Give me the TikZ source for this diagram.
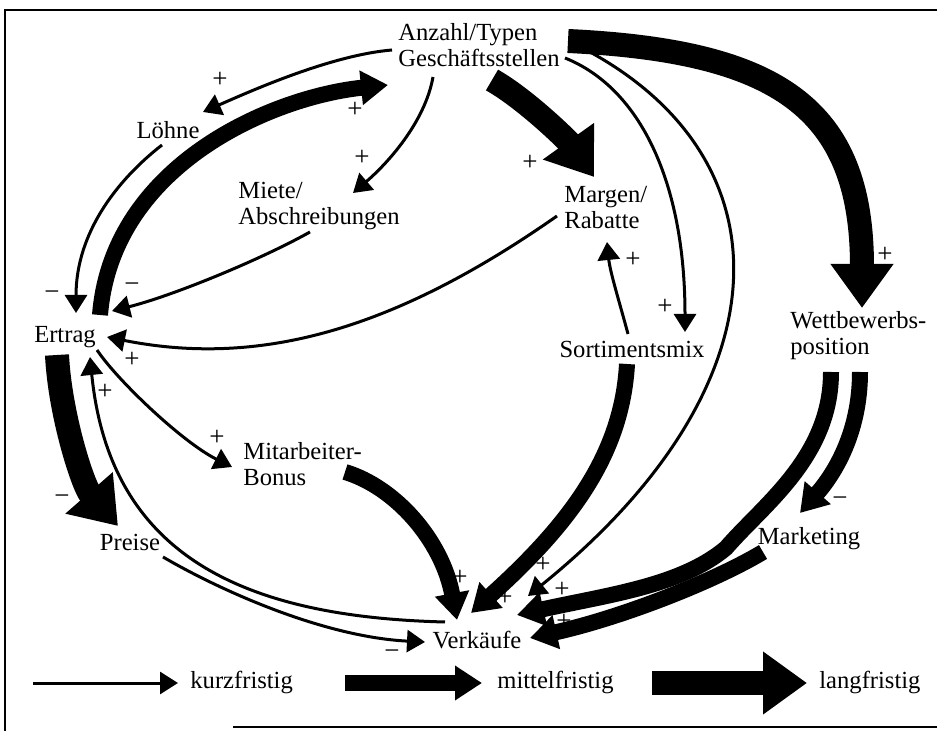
\documentclass[tikz,border=0pt]{standalone}
\usepackage{fontspec}
\setmainfont{Liberation Serif}
\usetikzlibrary{arrows.meta}
\begin{document}
\begin{tikzpicture}[x=0.5pt,y=-0.5pt,
  lbl/.style={font=\fontsize{12.3}{13}\selectfont, inner sep=0pt, align=left},
  sgn/.style={font=\fontsize{13.5}{13.5}\selectfont, inner sep=0pt},
  kurzpfeil/.style={line width=1.5pt, -{Triangle[length=9pt,width=11pt]}},
  mittelpfeil/.style={line width=8pt, -{Triangle[length=13.5pt,width=16.5pt]}},
  langpfeil/.style={line width=12pt, -{Triangle[length=22pt,width=30pt]}},
  rahmen/.style={line width=0.8pt}]
\useasboundingbox (0,0) rectangle (937,731);

% frame
\draw[rahmen] (5,731) -- (5,10) -- (937,10);
\draw[rahmen] (233,727) -- (937,727);

% variables
\node[lbl, anchor=west] (anz) at (398,45) {Anzahl/Typen\\Geschäftsstellen};
\node[lbl] (loehne) at (168,130) {Löhne};
\node[lbl, anchor=west] (miete) at (238,206) {Miete/\\Abschreibungen};
\node[lbl, anchor=west] (margen) at (564,208) {Margen/\\Rabatte};
\node[lbl] (ertrag) at (65,337) {Ertrag};
\node[lbl] (sort) at (632,349) {Sortimentsmix};
\node[lbl, anchor=west] (wett) at (790,336) {Wettbewerbs-\\position};
\node[lbl, anchor=west] (mitarb) at (243,464) {Mitarbeiter-\\Bonus};
\node[lbl] (preise) at (130,542) {Preise};
\node[lbl] (mark) at (809,539) {Marketing};
\node[lbl] (verk) at (477,640) {Verkäufe};

% long-term effects
\draw[langpfeil] ([shift={(94,35)}]anz.west) .. controls +(35,20) and +(-25,-35) .. ([shift={(30,-31)}]margen.west);
\draw[langpfeil] ([shift={(170,-4)}]anz.west) .. controls +(210,10) and +(0,-200) .. ([shift={(72,-28)}]wett.west);
\draw[langpfeil] ([shift={(-8,18)}]ertrag.center) .. controls +(3,60) and +(-35,-40) .. ([shift={(-12,-16)}]preise.center);

% medium-term effects
\draw[mittelpfeil] ([shift={(35,-22)}]ertrag.center) .. controls +(12,-150) and +(-116,12) .. ([shift={(-10,40)}]anz.west);
\draw[mittelpfeil] ([shift={(-5,15)}]sort.center) .. controls +(-5,90) and +(100,-90) .. ([shift={(-6,-27)}]verk.center);
\draw[mittelpfeil] ([shift={(102,8)}]mitarb.west) .. controls +(50,15) and +(-15,-80) .. ([shift={(-20,-20)}]verk.center);
\draw[mittelpfeil] ([shift={(41,36)}]wett.west) .. controls +(0,85) and +(38,-44) .. ([shift={(-83,9)}]mark.center)
  .. controls +(-45,38) and +(90,-20) .. ([shift={(40,-25)}]verk.center);
\draw[mittelpfeil] ([shift={(70,36)}]wett.west) .. controls +(0,60) and +(35,-40) .. ([shift={(-9,-26)}]mark.center);
\draw[mittelpfeil] ([shift={(-46,13)}]mark.center) .. controls +(-50,30) and +(90,-20) .. ([shift={(53,-2)}]verk.center);

% short-term effects
\draw[kurzpfeil] ([shift={(-6,5)}]anz.west) .. controls +(-60,5) and +(50,-22) .. ([shift={(35,-18)}]loehne.center);
\draw[kurzpfeil] ([shift={(35,32)}]anz.west) .. controls +(-8,45) and +(35,-30) .. ([shift={(115,-13)}]miete.west);
\draw[kurzpfeil] ([shift={(-6,15)}]loehne.center) .. controls +(-45,35) and +(0,-80) .. ([shift={(11,-24)}]ertrag.center);
\draw[kurzpfeil] ([shift={(72,26)}]miete.west) .. controls +(-50,28) and +(60,-15) .. ([shift={(47,-26)}]ertrag.center);
\draw[kurzpfeil] ([shift={(-7,8)}]margen.west) .. controls +(-160,112) and +(155,31) .. ([shift={(42,0)}]ertrag.center);
\draw[kurzpfeil] ([shift={(167,13)}]anz.west) .. controls +(75,30) and +(0,-150) .. ([shift={(53,-17)}]sort.center);
\draw[kurzpfeil] ([shift={(192,7)}]anz.west) .. controls +(200,110) and +(260,-210) .. ([shift={(51,-44)}]verk.center);
\draw[kurzpfeil] ([shift={(-4,-15)}]sort.center) .. controls +(-8,-30) and +(3,30) .. ([shift={(43,34)}]margen.west);
\draw[kurzpfeil] ([shift={(32,13)}]ertrag.center) .. controls +(20,30) and +(-50,-25) .. ([shift={(-11,3)}]mitarb.west);
\draw[kurzpfeil] ([shift={(-32,-18)}]verk.center) .. controls +(-200,-5) and +(20,200) .. ([shift={(25,20)}]ertrag.center);
\draw[kurzpfeil] ([shift={(33,15)}]preise.center) .. controls +(60,35) and +(-100,-5) .. ([shift={(-52,2)}]verk.center);

% polarities
\node[sgn] (s1) at (220,80) {+};
\node[sgn] (s2) at (355,110) {+};
\node[sgn] (s3) at (362,158) {+};
\node[sgn] (s4) at (52,296) {−};
\node[sgn] (s5) at (132,288) {−};
\node[sgn] (s6) at (132,360) {+};
\node[sgn] (s7) at (530,163) {+};
\node[sgn] (s8) at (665,307) {+};
\node[sgn] (s9) at (543,565) {+};
\node[sgn] (s10) at (633,260) {+};
\node[sgn] (s11) at (505,598) {+};
\node[sgn] (s12) at (460,578) {+};
\node[sgn] (s13) at (217,438) {+};
\node[sgn] (s14) at (62,500) {−};
\node[sgn] (s15) at (105,392) {+};
\node[sgn] (s16) at (392,655) {−};
\node[sgn] (s17) at (885,255) {+};
\node[sgn] (s18) at (562,590) {+};
\node[sgn] (s19) at (840,502) {−};
\node[sgn] (s20) at (564,622) {+};

% legend
\node[lbl, anchor=west] (kurztext) at (190,682) {kurzfristig};
\node[lbl, anchor=west] (mitteltext) at (497,682) {mittelfristig};
\node[lbl, anchor=west] (langtext) at (819,682) {langfristig};
\coordinate (k0) at (33,683);
\coordinate (m0) at (345,683);
\coordinate (l0) at (652,683);
\draw[kurzpfeil] (k0) -- ([shift={(-12,1)}]kurztext.west);
\draw[mittelpfeil] (m0) -- ([shift={(-15,1)}]mitteltext.west);
\draw[langpfeil] (l0) -- ([shift={(-12,1)}]langtext.west);
\end{tikzpicture}
\end{document}
